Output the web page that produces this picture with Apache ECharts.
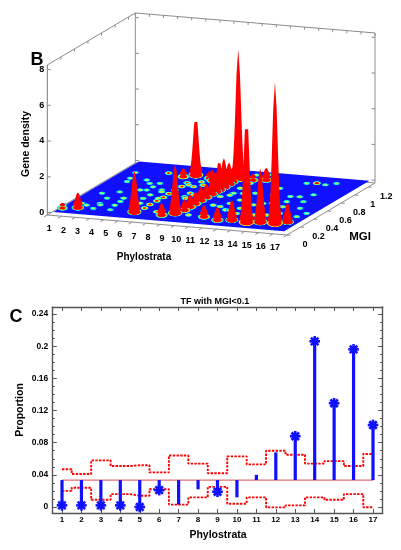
<!DOCTYPE html>
<html>
<head>
<meta charset="utf-8">
<script src="https://cdn.jsdelivr.net/npm/echarts@6/dist/echarts.min.js"></script>
<style>
  html, body { margin: 0; padding: 0; background: #fff; }
  #chart { width: 401px; height: 550px; }
</style>
</head>
<body>
<div id="chart"></div>
<script>
// ---------- panel B : gene density surface (phylostrata x MGI) ----------
var zTicks = [0, 2, 4, 6, 8];
var phyloTicks = [1, 2, 3, 4, 5, 6, 7, 8, 9, 10, 11, 12, 13, 14, 15, 16, 17];
var mgiTicks = [0, 0.2, 0.4, 0.6, 0.8, 1, 1.2];
var floorPhylo = [1.35, 17.7];
var floorMgi = [0.02, 1.28];

// red peaks
var peakPhylo = [1.5, 2.4, 6.36, 8.39, 9.01, 11.2, 12.39, 13.27, 14.41, 15.24, 16.28, 16.93,
  6.3, 9.26, 11.2, 5.7, 7.5, 7.9, 10.4,
  9.3, 9.3, 9.3, 9.3, 9.3, 9.3, 9.3, 9.3, 9.3, 9.3, 9.3];
var peakMgi = [0.12, 0.16, 0.17, 0.15, 0.22, 0.19, 0.14, 0.17, 0.15, 0.18, 0.18, 0.23,
  1.09, 1.10, 1.11, 1.03, 1.04, 1.00, 1.08,
  0.30, 0.38, 0.46, 0.54, 0.62, 0.70, 0.76, 0.81, 0.88, 0.955, 1.01];
var peakHeight = [0.3, 0.84, 2.3, 0.67, 2.75, 0.65, 0.73, 1.12, 6.33, 3.0, 7.9, 1.05,
  3.5, 7.2, 0.67, 0.47, 0.4, 0.6, 0.35,
  0.6, 0.7, 0.65, 0.8, 0.75, 0.9, 1.1, 1.67, 1.6, 1.2, 0.8];

// small bumps on the floor
var dotPhylo = [1.23, 2.68, 3.51, 3.22, 4.25, 4.44, 2.38, 3.35, 5.49, 6.43, 5.94, 4.40, 3.44, 4.65,
  2.56, 2.30, 4.42, 4.42, 4.33, 4.95, 5.56, 5.81, 5.76, 7.38, 7.82, 7.87, 7.92, 8.77, 10.09, 10.55,
  7.74, 10.05, 3.33, 2.19, 14.07, 14.69, 15.39, 14.44, 15.06, 13.48, 14.00, 14.87, 16.28, 17.23,
  16.96, 15.57, 14.92, 14.09, 13.50, 12.88, 12.11, 11.14, 11.68, 13.04, 10.56, 11.18, 10.09, 11.02,
  15.94, 15.80, 15.71, 2.72, 3.78, 4.90, 4.83, 6.89, 7.38, 8.09, 8.25, 10.54, 11.41, 10.45, 10.55,
  10.51, 11.92, 11.91, 11.80, 12.56, 15.08, 14.76, 13.23, 12.94,
  6.60, 6.55, 6.60, 6.65, 6.60, 6.60, 6.65, 6.60];
var dotMgi = [0.19, 0.23, 0.26, 0.42, 0.45, 0.28, 0.52, 0.58, 0.48, 0.51, 0.66, 0.37, 0.17, 0.17,
  0.90, 1.03, 1.08, 0.66, 0.82, 0.84, 0.57, 0.37, 0.70, 0.83, 0.88, 0.68, 0.59, 0.79, 0.66, 0.46,
  0.21, 0.20, 0.29, 0.26, 1.11, 1.13, 1.11, 0.79, 0.80, 0.59, 0.61, 0.55, 0.55, 0.45,
  0.36, 0.40, 0.34, 0.32, 0.34, 0.32, 0.38, 0.44, 0.62, 0.54, 0.76, 0.77, 1.20, 1.23,
  1.16, 0.70, 0.87, 0.82, 0.89, 0.75, 0.67, 0.86, 0.95, 0.56, 0.65, 0.71, 0.53, 0.88, 1.01,
  1.09, 0.67, 0.80, 0.38, 0.44, 0.55, 0.67, 0.79, 0.95,
  0.27, 0.36, 0.45, 0.54, 0.63, 0.72, 0.81, 0.90];
var dotHeight = [0.14, 0.12, 0.12, 0.11, 0.12, 0.12, 0.11, 0.11, 0.12, 0.14, 0.14, 0.11, 0.11, 0.11,
  0.11, 0.11, 0.20, 0.12, 0.11, 0.11, 0.12, 0.12, 0.12, 0.17, 0.17, 0.17, 0.17, 0.14, 0.14, 0.14,
  0.17, 0.14, 0.11, 0.14, 0.11, 0.25, 0.11, 0.11, 0.12, 0.12, 0.12, 0.12, 0.11, 0.11,
  0.12, 0.12, 0.14, 0.14, 0.14, 0.14, 0.14, 0.14, 0.12, 0.12, 0.12, 0.12, 0.11, 0.11,
  0.11, 0.11, 0.11, 0.11, 0.11, 0.11, 0.11, 0.16, 0.17, 0.16, 0.16, 0.14, 0.14, 0.14, 0.16,
  0.17, 0.12, 0.12, 0.14, 0.14, 0.12, 0.12, 0.12, 0.12,
  0.21, 0.22, 0.21, 0.22, 0.21, 0.20, 0.21, 0.19];

// ---------- panel C : TF with MGI<0.1 ----------
var strata = [1, 2, 3, 4, 5, 6, 7, 8, 9, 10, 11, 12, 13, 14, 15, 16, 17];
var proportion = [0.002, 0.002, 0.002, 0.002, 0.0, 0.021, 0.003, 0.022, 0.019, 0.012,
  0.040, 0.068, 0.088, 0.206, 0.129, 0.196, 0.102];
var upperBound = [0.047, 0.041, 0.058, 0.051, 0.052, 0.043, 0.064, 0.054, 0.042, 0.063,
  0.053, 0.070, 0.065, 0.054, 0.057, 0.051, 0.066];
var lowerBound = [0.020, 0.024, 0.009, 0.016, 0.014, 0.022, 0.003, 0.012, 0.025, 0.004,
  0.012, -0.0005, 0.002, 0.012, 0.009, 0.016, -0.0004];
var expected = 0.0335;
var yTicksC = [0, 0.04, 0.08, 0.12, 0.16, 0.2, 0.24];

// ---------- 3D projection (oblique view) ----------
var P_MIN = 1, P_MAX = 18, M_MAX = 1.3, Z_MIN = -0.15, Z_MAX = 8.25;
var ORIGIN = [47.3, 215], U = [14.1, 1.176], V = [67.7, -40], W = 17.86;
function proj(p, m, z) {
  return [ORIGIN[0] + (p - P_MIN) * U[0] + m * V[0],
          ORIGIN[1] + (p - P_MIN) * U[1] + m * V[1] - (z - Z_MIN) * W];
}

var Z_SAT = 0.18, SIGMA_DOT = 2.1, SIGMA_PEAK = 2.6, FLAT = 0.5;
var FONT = '"Liberation Sans", Arial, sans-serif';
var AXIS_GRAY = '#8c8c8c';
var BLUE = '#1010ff';

function jet(t) {
  t = Math.max(0, Math.min(1, t));
  function c(x) { return Math.round(255 * Math.max(0, Math.min(1, x))); }
  return 'rgb(' + c(1.5 - Math.abs(4 * t - 3)) + ',' + c(1.5 - Math.abs(4 * t - 2)) + ',' + c(1.5 - Math.abs(4 * t - 1)) + ')';
}
function levelT(z) { return 0.125 + 0.75 * Math.min(z / Z_SAT, 1); }
function bumpFill(h, R, s) {
  var stops = [];
  for (var k = 0; k <= 6; k++) {
    var f = k / 6, r = f * R;
    var z = h * Math.exp(-r * r / (2 * s * s));
    stops.push({offset: f, color: k === 6 ? 'rgba(0,0,255,0)' : jet(levelT(z))});
  }
  return new echarts.graphic.RadialGradient(0.5, 0.5, 0.5, stops);
}

var surfItems = [];
dotPhylo.forEach(function (p, i) { surfItems.push([p, dotMgi[i], dotHeight[i], 0]); });
peakPhylo.forEach(function (p, i) { surfItems.push([p, peakMgi[i], peakHeight[i], 1]); });
surfItems.sort(function (a, b) { return proj(a[0], a[1], 0)[1] - proj(b[0], b[1], 0)[1]; });

function txt(x, y, s, font, align) {
  return {type: 'text', x: x, y: y, style: {text: s, font: font, fill: '#000', align: align || 'center', verticalAlign: 'middle'}};
}
function seg(a, b, color, w) {
  return {type: 'line', shape: {x1: a[0], y1: a[1], x2: b[0], y2: b[1]}, style: {stroke: color || AXIS_GRAY, lineWidth: w || 1}};
}

function renderBoxBack(params, api) {
  function P(p, m, z) { return api.coord(proj(p, m, z)); }
  var ch = [];
  ch.push(seg(P(P_MIN, 0, Z_MIN), P(P_MIN, M_MAX, Z_MIN)));
  ch.push(seg(P(P_MIN, M_MAX, Z_MIN), P(P_MAX, M_MAX, Z_MIN)));
  ch.push(seg(P(P_MIN, 0, Z_MIN), P(P_MIN, 0, Z_MAX), '#7a7a7a'));
  ch.push(seg(P(P_MIN, M_MAX, Z_MIN), P(P_MIN, M_MAX, Z_MAX)));
  ch.push(seg(P(P_MAX, M_MAX, Z_MIN), P(P_MAX, M_MAX, Z_MAX)));
  ch.push(seg(P(P_MIN, 0, Z_MAX), P(P_MIN, M_MAX, Z_MAX)));
  ch.push(seg(P(P_MIN, M_MAX, Z_MAX), P(P_MAX, M_MAX, Z_MAX)));
  zTicks.forEach(function (z) {
    ch.push(seg(P(P_MIN, 0, z), P(P_MIN + 0.25, 0, z)));
    ch.push(seg(P(P_MIN, M_MAX, z), P(P_MIN + 0.25, M_MAX, z)));
    ch.push(seg(P(P_MAX, M_MAX, z), P(P_MAX - 0.25, M_MAX, z)));
    var c = P(P_MIN, 0, z);
    ch.push(txt(c[0] - 3, c[1], String(z), 'bold 9px ' + FONT, 'right'));
  });
  for (var p = P_MIN; p <= P_MAX; p++) {
    ch.push(seg(P(p, M_MAX, Z_MAX), P(p, M_MAX, Z_MAX - 0.15)));
  }
  mgiTicks.forEach(function (m) {
    ch.push(seg(P(P_MIN, m, Z_MAX), P(P_MIN, m, Z_MAX - 0.15)));
  });
  return {type: 'group', children: ch};
}

function renderFloor(params, api) {
  var pts = [
    api.coord(proj(floorPhylo[0], floorMgi[0], 0)),
    api.coord(proj(floorPhylo[1], floorMgi[0], 0)),
    api.coord(proj(floorPhylo[1], floorMgi[1], 0)),
    api.coord(proj(floorPhylo[0], floorMgi[1], 0))
  ];
  return {type: 'polygon', shape: {points: pts}, style: {fill: BLUE}};
}

function renderSurface(params, api) {
  var p = api.value(0), m = api.value(1), h = api.value(2), isPeak = api.value(3);
  var s = isPeak ? SIGMA_PEAK : SIGMA_DOT;
  var base = api.coord(proj(p, m, 0));
  var R = s * Math.sqrt(2 * Math.log(Math.max(h, 0.05) / 0.02));
  var ch = [{type: 'circle', x: base[0], y: base[1], scaleY: FLAT, shape: {cx: 0, cy: 0, r: R}, style: {fill: bumpFill(h, R, s)}}];
  if (isPeak && h > Z_SAT) {
    var left = [], right = [], N = 18;
    for (var i = 0; i <= N; i++) {
      var z = Z_SAT * Math.pow(h / Z_SAT, i / N);
      var w = s * Math.sqrt(2 * Math.log(h / z));
      var c = api.coord(proj(p, m, z));
      left.push([c[0] - w, c[1]]);
      right.unshift([c[0] + w, c[1]]);
    }
    var w0 = s * Math.sqrt(2 * Math.log(h / Z_SAT));
    var c0 = api.coord(proj(p, m, Z_SAT));
    ch.push({type: 'circle', x: c0[0], y: c0[1], scaleY: FLAT, shape: {cx: 0, cy: 0, r: w0}, style: {fill: '#ff0000'}});
    ch.push({type: 'polygon', shape: {points: left.concat(right)}, style: {fill: '#ff0000'}});
  }
  return {type: 'group', children: ch};
}

function renderBoxFront(params, api) {
  function P(p, m, z) { return api.coord(proj(p, m, z)); }
  var ch = [];
  ch.push(seg(P(P_MIN, 0, Z_MIN), P(P_MAX, 0, Z_MIN)));
  ch.push(seg(P(P_MAX, 0, Z_MIN), P(P_MAX, M_MAX, Z_MIN)));
  for (var p = P_MIN; p <= P_MAX; p++) {
    ch.push(seg(P(p, 0, Z_MIN), P(p, -0.05, Z_MIN)));
  }
  phyloTicks.forEach(function (k) {
    var c = P(k, 0, Z_MIN);
    ch.push(txt(c[0] + 2, c[1] + 14, String(k), 'bold 9px ' + FONT));
  });
  mgiTicks.forEach(function (m) {
    ch.push(seg(P(P_MAX, m, Z_MIN), P(P_MAX + 0.25, m, Z_MIN)));
    var c = P(P_MAX, m, Z_MIN);
    ch.push(txt(c[0] + 18, c[1] + 10, String(m), 'bold 9px ' + FONT));
  });
  return {type: 'group', children: ch};
}

// ---------- panel C geometry ----------
var C_LEFT = 62, C_TOP = 314, C_W = 311, C_H = 193;   // grid spanning x 1..17, y 0..0.24
var PAD_BOTTOM = 6, PAD_TOP = 7;
var pxX = C_W / 16, pxY = C_H / 0.24;
var frameLeft = C_LEFT - 0.5 * pxX, frameWidth = 17 * pxX;
var frameTop = C_TOP - PAD_TOP, frameHeight = C_H + PAD_TOP + PAD_BOTTOM;
var yFrameMin = -PAD_BOTTOM / pxY, yFrameMax = 0.24 + PAD_TOP / pxY;

var frameLine = {show: true, onZero: false, lineStyle: {color: '#555', width: 1.4}};
function ticks(len) { return {show: true, inside: true, length: len, lineStyle: {color: '#555', width: 1}}; }
var frameAxis = {type: 'value', axisLine: frameLine, axisTick: {show: false}, axisLabel: {show: false}, splitLine: {show: false}};
var noLine = {show: false, onZero: false};

function isMajor(v) {
  return yTicksC.some(function (t) { return Math.abs(t - v) < 1e-7; });
}

var stars = [];
strata.forEach(function (s, i) {
  if (proportion[i] < lowerBound[i] || proportion[i] > upperBound[i]) stars.push([s, proportion[i]]);
});

var chart = echarts.init(document.getElementById('chart'), null, {renderer: 'canvas'});
chart.setOption({
  animation: false,
  backgroundColor: '#fff',
  grid: [
    {left: 0, top: 0, width: 401, height: 270, show: false},
    {left: frameLeft, top: frameTop, width: frameWidth, height: frameHeight},
    {left: C_LEFT, top: C_TOP, width: C_W, height: C_H}
  ],
  xAxis: [
    {gridIndex: 0, type: 'value', min: 0, max: 401, show: false},
    Object.assign({gridIndex: 1, min: 0.5, max: 17.5, position: 'bottom'}, frameAxis),
    Object.assign({gridIndex: 1, min: 0.5, max: 17.5, position: 'top'}, frameAxis),
    {gridIndex: 2, type: 'value', min: 1, max: 17, interval: 1, position: 'bottom', offset: PAD_BOTTOM,
      axisLine: noLine, axisTick: ticks(4), splitLine: {show: false},
      axisLabel: {margin: 3, color: '#000', fontWeight: 'bold', fontSize: 8, fontFamily: FONT}},
    {gridIndex: 2, type: 'value', min: 1, max: 17, interval: 1, position: 'top', offset: PAD_TOP,
      axisLine: noLine, axisTick: ticks(4), splitLine: {show: false}, axisLabel: {show: false}}
  ],
  yAxis: [
    {gridIndex: 0, type: 'value', min: 0, max: 270, inverse: true, show: false},
    Object.assign({gridIndex: 1, min: yFrameMin, max: yFrameMax, position: 'left'}, frameAxis),
    Object.assign({gridIndex: 1, min: yFrameMin, max: yFrameMax, position: 'right'}, frameAxis),
    {gridIndex: 2, type: 'value', min: 0, max: 0.24, interval: 0.01, position: 'left', offset: 0.5 * pxX,
      axisLine: noLine, axisTick: ticks(2.6), splitLine: {show: false},
      axisLabel: {margin: 4, color: '#000', fontWeight: 'bold', fontSize: 8.5, fontFamily: FONT,
        formatter: function (v) { return isMajor(v) ? String(+v.toFixed(2)) : ''; }}},
    {gridIndex: 2, type: 'value', min: 0, max: 0.24, interval: 0.01, position: 'right', offset: 0.5 * pxX,
      axisLine: noLine, axisTick: ticks(2.6), splitLine: {show: false}, axisLabel: {show: false}},
    {gridIndex: 2, type: 'value', min: 0, max: 0.24, interval: 0.04, position: 'left', offset: 0.5 * pxX,
      axisLine: noLine, axisTick: ticks(4.5), splitLine: {show: false}, axisLabel: {show: false}},
    {gridIndex: 2, type: 'value', min: 0, max: 0.24, interval: 0.04, position: 'right', offset: 0.5 * pxX,
      axisLine: noLine, axisTick: ticks(4.5), splitLine: {show: false}, axisLabel: {show: false}}
  ],
  graphic: [
    {type: 'text', x: 37, y: 60, style: {text: 'B', font: 'bold 18px ' + FONT, fill: '#000', align: 'center', verticalAlign: 'middle'}},
    {type: 'text', x: 26.5, y: 144, rotation: Math.PI / 2, style: {text: 'Gene density', font: 'bold 10.5px ' + FONT, fill: '#000', align: 'center', verticalAlign: 'middle'}},
    {type: 'text', x: 144, y: 257, style: {text: 'Phylostrata', font: 'bold 10px ' + FONT, fill: '#000', align: 'center', verticalAlign: 'middle'}},
    {type: 'text', x: 360, y: 237, style: {text: 'MGI', font: 'bold 11.5px ' + FONT, fill: '#000', align: 'center', verticalAlign: 'middle'}},
    {type: 'text', x: 16, y: 317, style: {text: 'C', font: 'bold 18px ' + FONT, fill: '#000', align: 'center', verticalAlign: 'middle'}},
    {type: 'text', x: 215, y: 301.5, style: {text: 'TF with MGI<0.1', font: 'bold 9px ' + FONT, fill: '#000', align: 'center', verticalAlign: 'middle'}},
    {type: 'text', x: 20.5, y: 410, rotation: Math.PI / 2, style: {text: 'Proportion', font: 'bold 10.5px ' + FONT, fill: '#000', align: 'center', verticalAlign: 'middle'}},
    {type: 'text', x: 218, y: 535, style: {text: 'Phylostrata', font: 'bold 10.5px ' + FONT, fill: '#000', align: 'center', verticalAlign: 'middle'}}
  ],
  series: [
    {type: 'custom', xAxisIndex: 0, yAxisIndex: 0, data: [[0, 0]], renderItem: renderBoxBack, silent: true, z: 1},
    {type: 'custom', xAxisIndex: 0, yAxisIndex: 0, data: [[0, 0]], renderItem: renderFloor, silent: true, z: 2},
    {type: 'custom', xAxisIndex: 0, yAxisIndex: 0, data: surfItems, renderItem: renderSurface, silent: true, z: 3},
    {type: 'custom', xAxisIndex: 0, yAxisIndex: 0, data: [[0, 0]], renderItem: renderBoxFront, silent: true, z: 4},

    {type: 'line', xAxisIndex: 1, yAxisIndex: 1, data: [[1, expected], [17, expected]], symbol: 'none',
      lineStyle: {color: '#e07070', width: 1.3}, silent: true, z: 2},
    {type: 'line', xAxisIndex: 1, yAxisIndex: 1, step: 'middle', symbol: 'none', silent: true, z: 3,
      data: strata.map(function (s, i) { return [s, upperBound[i]]; }),
      lineStyle: {color: '#ff0000', width: 1.9, type: [2.4, 1.3]}},
    {type: 'line', xAxisIndex: 1, yAxisIndex: 1, step: 'middle', symbol: 'none', silent: true, z: 3,
      data: strata.map(function (s, i) { return [s, lowerBound[i]]; }),
      lineStyle: {color: '#ff0000', width: 1.9, type: [2.4, 1.3]}},
    {type: 'custom', xAxisIndex: 1, yAxisIndex: 1, silent: true, z: 4,
      data: strata.map(function (s, i) { return [s, proportion[i]]; }),
      renderItem: function (params, api) {
        var a = api.coord([api.value(0), expected]);
        var b = api.coord([api.value(0), api.value(1)]);
        return {type: 'line', shape: {x1: a[0], y1: a[1], x2: b[0], y2: b[1]}, style: {stroke: BLUE, lineWidth: 3.2}};
      }},
    {type: 'custom', xAxisIndex: 1, yAxisIndex: 1, silent: true, z: 5, data: stars,
      renderItem: function (params, api) {
        var c = api.coord([api.value(0), api.value(1)]);
        var r = 5.3, ch = [];
        for (var k = 0; k < 4; k++) {
          var a = k * Math.PI / 4;
          ch.push({type: 'line', shape: {x1: c[0] - r * Math.cos(a), y1: c[1] - r * Math.sin(a), x2: c[0] + r * Math.cos(a), y2: c[1] + r * Math.sin(a)},
            style: {stroke: BLUE, lineWidth: 2.6}});
        }
        ch.push({type: 'circle', shape: {cx: c[0], cy: c[1], r: 2.6}, style: {fill: BLUE}});
        return {type: 'group', children: ch};
      }}
  ]
});
</script>
</body>
</html>
